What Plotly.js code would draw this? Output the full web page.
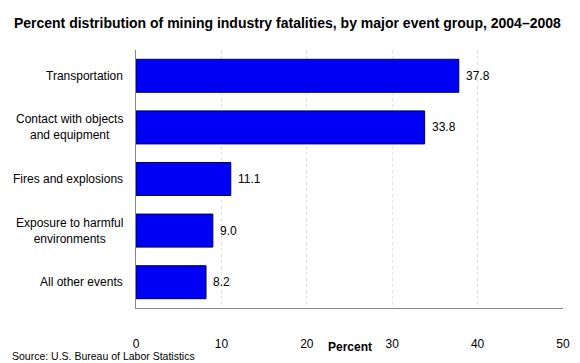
<!DOCTYPE html>
<html>
<head>
<meta charset="utf-8">
<script src="https://cdn.plot.ly/plotly-3.0.1.min.js"></script>
<style>html,body{margin:0;padding:0;background:#fff;}#chart{width:580px;height:363px;}</style>
</head>
<body>
<div id="chart"></div>
<script>
var categories = ["Transportation", "Contact with objects<br>and equipment", "Fires and explosions", "Exposure to harmful<br>environments", "All other events"];
var values = [37.8, 33.8, 11.1, 9.0, 8.2];
var xTicks = [0, 10, 20, 30, 40, 50];

var font = "Liberation Sans, Arial, sans-serif";

var trace = {
  type: "bar",
  orientation: "h",
  y: categories,
  x: values,
  marker: {color: "#0000f5", line: {color: "#00005a", width: 1}},
  width: 0.64,
  hoverinfo: "none"
};

var annotations = [];
categories.forEach(function (c, i) {
  annotations.push({
    x: values[i], y: c, xref: "x", yref: "y",
    text: values[i].toFixed(1), showarrow: false,
    xanchor: "left", xshift: 5,
    font: {family: font, size: 12, color: "#000"}
  });
  annotations.push({
    x: 0, y: c, xref: "paper", yref: "y",
    text: c, showarrow: false, align: "center",
    xanchor: "right", xshift: -11,
    font: {family: font, size: 12, color: "#000"}
  });
});
annotations.push({
  x: 0, y: 0, xref: "paper", yref: "paper", xanchor: "left", yanchor: "middle",
  xshift: -126, yshift: -48,
  text: "Source: U.S. Bureau of Labor Statistics", showarrow: false,
  font: {family: font, size: 10.5, color: "#000"}
});
annotations.push({
  x: 0.5, y: 0, xref: "paper", yref: "paper", xanchor: "center", yanchor: "middle",
  yshift: -39,
  text: "<b>Percent</b>", showarrow: false,
  font: {family: font, size: 12, color: "#000"}
});

var layout = {
  width: 580, height: 363,
  margin: {l: 136, r: 17, t: 50, b: 55},
  paper_bgcolor: "#fff", plot_bgcolor: "#fff",
  showlegend: false,
  title: {text: "<b>Percent distribution of mining industry fatalities, by major event group, 2004\u20132008</b>",
          x: 0.024, xanchor: "left", y: 0.935, yanchor: "middle",
          font: {family: font, size: 14, color: "#000"}},
  xaxis: {
    range: [0, 50], tickvals: xTicks, ticktext: xTicks.map(String),
    showgrid: true, gridcolor: "#e2e2e2", griddash: "dot", gridwidth: 1,
    showline: true, linecolor: "#888", linewidth: 1,
    zeroline: false, ticks: "", ticklabelstandoff: 25,
    tickfont: {family: font, size: 12, color: "#000"},
    fixedrange: true
  },
  yaxis: {
    autorange: "reversed", showticklabels: false, ticks: "",
    showline: true, linecolor: "#888", linewidth: 1,
    showgrid: false, zeroline: false, fixedrange: true
  },
  annotations: annotations,
  bargap: 0.36
};

Plotly.newPlot("chart", [trace], layout, {displayModeBar: false, staticPlot: true});
</script>
</body>
</html>
